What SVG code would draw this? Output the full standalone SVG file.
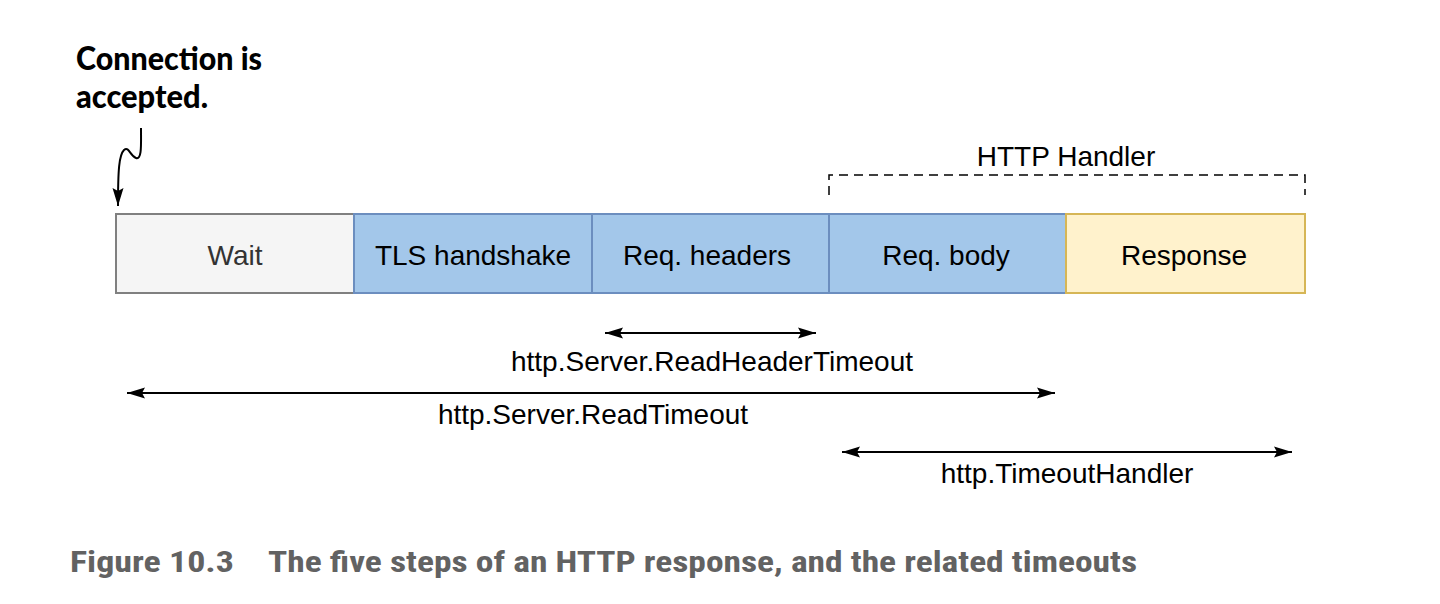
<svg xmlns="http://www.w3.org/2000/svg" width="1440" height="604" viewBox="0 0 1440 604">
<style>
.lbl{font-family:"Liberation Sans",Arial,sans-serif;font-size:28px;fill:#000;text-anchor:middle}
.box{stroke-width:2}
.conn{stroke:#000;stroke-width:2;fill:none}
.cap{font-family:"Liberation Sans Narrow","Roboto Condensed","Liberation Sans",sans-serif;font-weight:bold;font-size:29px;fill:#626262}
.note{font-family:Lato,"Open Sans","Liberation Sans",sans-serif;font-weight:900;font-size:32px;fill:#000}
</style>
<defs>
<marker id="ah" viewBox="0 0 18 12" refX="18" refY="6" markerWidth="18" markerHeight="12" markerUnits="userSpaceOnUse" orient="auto-start-reverse">
<path d="M0,0.5 L18,6 L0,11.5 L3,6 Z" fill="#000"/>
</marker>
</defs>
<rect width="1440" height="604" fill="#fff"/>
<g id="note">
<text class="note" x="76" y="70" textLength="186" lengthAdjust="spacingAndGlyphs">Connection is</text>
<text class="note" x="76" y="108" textLength="132" lengthAdjust="spacingAndGlyphs">accepted.</text>
</g>
<g id="wait">
<rect class="box" x="116" y="214" width="238" height="79" fill="#f5f5f5" stroke="#808080"/>
<text class="lbl" x="235" y="265" style="fill:#333">Wait</text>
</g>
<g id="tls">
<rect class="box" x="354" y="214" width="238" height="79" fill="#a3c7ea" stroke="#6c8ebf"/>
<text class="lbl" x="473" y="265">TLS handshake</text>
</g>
<g id="reqheaders">
<rect class="box" x="592" y="214" width="237" height="79" fill="#a3c7ea" stroke="#6c8ebf"/>
<text class="lbl" x="707" y="265">Req. headers</text>
</g>
<g id="reqbody">
<rect class="box" x="829" y="214" width="237" height="79" fill="#a3c7ea" stroke="#6c8ebf"/>
<text class="lbl" x="946" y="265">Req. body</text>
</g>
<g id="response">
<rect class="box" x="1066" y="214" width="239" height="79" fill="#fff2cc" stroke="#d6b656"/>
<text class="lbl" x="1184" y="265">Response</text>
</g>
<g id="handler">
<path d="M829,195 V175 H1305 V195" fill="none" stroke="#000" stroke-width="1.5" stroke-dasharray="9 6"/>
<text class="lbl" x="1066" y="166">HTTP Handler</text>
</g>
<g id="connectors">
<path class="conn" d="M141,128 C141,145 142,160 136,158 C130,156 129,146 124,150 C119,155 118,170 118,206" stroke-width="1.5" marker-end="url(#ah)"/>
<line class="conn" x1="605" y1="333" x2="816" y2="333" marker-start="url(#ah)" marker-end="url(#ah)"/>
<line class="conn" x1="127" y1="393" x2="1055" y2="393" marker-start="url(#ah)" marker-end="url(#ah)"/>
<line class="conn" x1="842" y1="452" x2="1292" y2="452" marker-start="url(#ah)" marker-end="url(#ah)"/>
</g>
<g id="labels">
<text class="lbl" x="712" y="371">http.Server.ReadHeaderTimeout</text>
<text class="lbl" x="593" y="424">http.Server.ReadTimeout</text>
<text class="lbl" x="1067" y="483">http.TimeoutHandler</text>
</g>
<g id="caption">
<text class="cap" x="70" y="572" textLength="164" lengthAdjust="spacingAndGlyphs">Figure 10.3</text>
<text class="cap" x="268" y="572" textLength="869" lengthAdjust="spacingAndGlyphs">The five steps of an HTTP response, and the related timeouts</text>
</g>
</svg>
